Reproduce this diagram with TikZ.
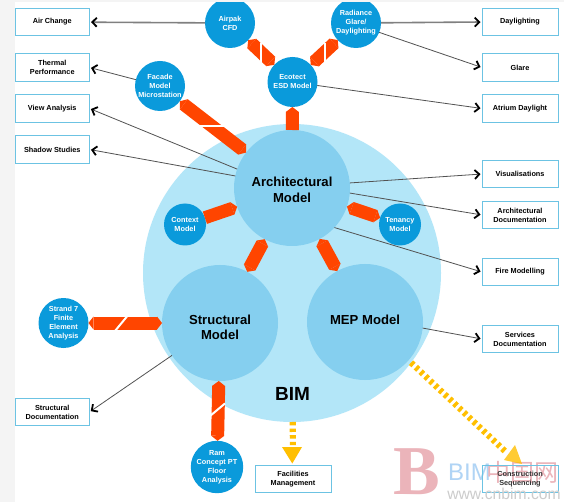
\documentclass[tikz,border=0pt]{standalone}
\usepackage{fontspec}
\setmainfont{Liberation Sans}
\newfontfamily\cjkwm{Noto Sans CJK SC}
\newfontfamily\serifwm{Liberation Serif}
\usetikzlibrary{arrows.meta}
\definecolor{bimc}{HTML}{B3E6F8}
\definecolor{modelc}{HTML}{85CFEF}
\definecolor{toolc}{HTML}{0A9ADB}
\definecolor{boxc}{HTML}{6CC3E3}
\definecolor{barc}{HTML}{FF4500}
\definecolor{yelc}{HTML}{FFBF00}
\definecolor{pagec}{HTML}{F4F4F4}
\definecolor{wmpink}{HTML}{EBB4BA}
\definecolor{wmblue}{HTML}{B0D4F5}
\tikzset{
  x=1pt,y=-1pt,
  outbox/.style={draw=boxc,line width=1pt,fill=white,minimum height=27.5pt,inner sep=0pt,outer sep=0pt,align=center,font=\fontsize{7.3}{9}\selectfont\bfseries,text=black},
  lbox/.style={outbox,minimum width=74.5pt},
  rbox/.style={outbox,minimum width=76pt},
  tool/.style={circle,fill=toolc,minimum size=50pt,inner sep=0pt,outer sep=0pt,align=center,font=\fontsize{7.3}{9}\selectfont\bfseries,text=white},
  minitool/.style={tool,minimum size=42pt},
  model/.style={circle,fill=modelc,minimum size=116pt,inner sep=0pt,outer sep=0pt,align=center,font=\fontsize{13.1}{15.5}\selectfont\bfseries,text=black},
  thickline/.style={draw=black!50,line width=1.6pt,shorten >=1.5pt,-{Straight Barb[black,length=4.5pt,width=9pt,line width=1.8pt]}},
  thinline/.style={draw=black!68,line width=.8pt,shorten >=1.5pt,-{Straight Barb[black,length=4.5pt,width=9pt,line width=1.8pt]}},
  hexbar/.style={draw=barc,line width=13pt,{Triangle[length=5pt,width=13pt,line width=0pt]}-{Triangle[length=5pt,width=13pt,line width=0pt]}},
  hexbarend/.style={draw=barc,line width=13pt,-{Triangle[length=5pt,width=13pt,line width=0pt]}},
  hexbarstart/.style={draw=barc,line width=13pt,{Triangle[length=5pt,width=13pt,line width=0pt]}-},
  slash/.style={draw=white,line width=2pt},
  dashbar/.style={draw=yelc,line width=6.2pt,dash pattern=on 3.4pt off 3.2pt},
}
\begin{document}
\begin{tikzpicture}
\useasboundingbox (0,0) rectangle (564,502);
\fill[white] (0,0) rectangle (564,502);
% main circles
\node[circle,fill=bimc,minimum size=298pt,inner sep=0pt,outer sep=0pt] (bim) at (292,273) {};
\node[model] (arch) at (292,188) {\raisebox{-6.5pt}[0pt][0pt]{\begin{tabular}{@{}c@{}}Architectural\\Model\end{tabular}}};
\node[model] (struct) at (220,323) {\raisebox{-9pt}[0pt][0pt]{\begin{tabular}{@{}c@{}}Structural\\Model\end{tabular}}};
\node[model] (mep) at (365,322) {\raisebox{-2.7pt}[0pt][0pt]{MEP Model}};
\node[font=\fontsize{19}{21}\selectfont\bfseries] (bimlabel) at (292.5,394) {BIM};
% tools
\node[tool] (airpak) at (230,23) {Airpak\\CFD};
\node[tool] (radiance) at (356,23) {Radiance\\Glare/\\Daylighting};
\node[tool] (ecotect) at (292.5,82) {Ecotect\\ESD Model};
\node[tool] (facade) at (160,86) {Facade\\Model\\Microstation};
\node[minitool] (context) at (185,224.5) {Context\\Model};
\node[minitool] (tenancy) at (400,224.5) {Tenancy\\Model};
\node[tool] (strand) at (63.5,323) {Strand 7\\Finite\\Element\\Analysis};
\node[tool] (ram) at (217,467) {Ram\\Concept PT\\Floor\\Analysis};
% left boxes
\node[lbox] (airchange) at (52.25,22) {Air Change};
\node[lbox] (thermal) at (52.25,67.5) {Thermal\\Performance};
\node[lbox] (view) at (52.25,108.5) {View Analysis};
\node[lbox] (shadow) at (52.25,149.5) {Shadow Studies};
\node[lbox] (structdoc) at (52.25,412) {Structural\\Documentation};
% right boxes
\node[rbox] (daylighting) at (520,22) {Daylighting};
\node[rbox] (glare) at (520,67.5) {Glare};
\node[rbox] (atrium) at (520,108.5) {Atrium Daylight};
\node[rbox] (visual) at (520,174) {Visualisations};
\node[rbox] (archdoc) at (520,215) {Architectural\\Documentation};
\node[rbox] (fire) at (520,272) {Fire Modelling};
\node[rbox] (services) at (520,339) {Services\\Documentation};
\node[rbox] (facilities) at (293,479) {Facilities\\Management};
% watermark
\node[font=\serifwm\fontsize{70}{70}\selectfont\bfseries,text=wmpink,inner sep=0pt,anchor=base] (wmb) at (417,494) {B};
\node[font=\fontsize{24}{24}\selectfont,text=wmblue,inner sep=0pt,anchor=west] (wmbim) at (448,472) {BIM};
\node[font=\cjkwm\fontsize{24}{24}\selectfont,text=wmpink,inner sep=0pt,anchor=west] (wmcn) at (486,472) {中国网};
\node[rbox,fill=none,text=black!80] (construction) at (520,479) {Construction\\Sequencing};
\node[font=\fontsize{15.7}{16}\selectfont,text=black!20,inner sep=0pt] (wmurl) at (504,494) {www.cnbim.com};
% orange connectors
\draw[hexbar,fill=barc] (facade) -- (arch);
\draw[slash] (198,126) -- (224,126);
\draw[hexbar] (airpak) -- (ecotect);
\draw[slash] (261,43) -- (261,69);
\draw[hexbar] (radiance) -- (ecotect);
\draw[slash] (324.5,43) -- (324.5,69);
\draw[hexbarstart] (ecotect) -- (arch);
\draw[hexbarend] (context) -- (arch);
\draw[hexbar] (tenancy) -- (arch);
\draw[hexbar] (arch) -- (struct);
\draw[hexbar] (arch) -- (mep);
\draw[hexbar] (strand) -- (struct);
\draw[slash] (129,314) -- (115,331);
\draw[hexbar] (struct) -- (ram);
\draw[slash] (207,418.5) -- (225,403.5);
% black connectors
\draw[thickline] (airpak) -- (airchange);
\draw[thickline] (radiance) -- (daylighting.west);
\draw[thinline] (radiance.-22) -- (glare.west);
\draw[thinline] (ecotect.-8) -- (atrium.west);
\draw[thinline] (facade) -- (thermal.east);
\draw[thinline] (arch.161) -- (view.east);
\draw[thinline] (arch.168) -- (shadow.east);
\draw[thinline] (arch.5) -- (visual.west);
\draw[thinline] (arch.-5) -- (archdoc.west);
\draw[thinline] (arch.-43) -- (fire.west);
\draw[thinline] (struct.-146) -- (structdoc.east);
\draw[thinline] (mep.-6) -- (services.west);
% yellow connectors
\draw[dashbar,shorten >=17pt] (bim) -- (facilities.north);
\fill[yelc] (282,447) -- (302,447) -- (292.3,463.5) -- cycle;
\draw[dashbar,shorten >=18pt] (bim.-37) -- (construction.north);
\fill[yelc,opacity=.8] (504,460) -- (515,445) -- (522,464) -- cycle;
% page margin
\fill[pagec] (0,0) rectangle (15,502);
\fill[pagec] (0,0) rectangle (564,2);
\end{tikzpicture}
\end{document}
